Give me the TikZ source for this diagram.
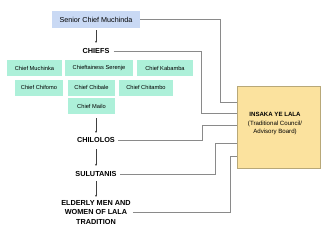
\documentclass[tikz,border=0pt]{standalone}
\usepackage{fontspec}
\setmainfont{Liberation Sans}
\usetikzlibrary{arrows.meta}
\definecolor{seniorfill}{HTML}{C9D9F4}
\definecolor{chieffill}{HTML}{ADF0D9}
\definecolor{councilfill}{HTML}{FBE29E}
\definecolor{councilline}{HTML}{B8A878}
\definecolor{linkgray}{HTML}{8A8A8A}
\tikzset{
  chiefbox/.style={fill=chieffill, inner sep=0pt, font=\fontsize{5.7}{6}\selectfont},
  level/.style={font=\bfseries\fontsize{7.3}{9.6}\selectfont, align=center, inner sep=1pt},
  link/.style={draw=linkgray, line width=0.6pt},
  down/.style={draw=black!75, line width=0.5pt, -{Stealth[length=2.2pt,width=2pt]}},
}
\begin{document}
\begin{tikzpicture}[x=1pt,y=-1pt]
\useasboundingbox (0,0) rectangle (330,233);
% senior chief
\node[fill=seniorfill, minimum width=88pt, minimum height=17pt, inner sep=0pt, font=\fontsize{7.2}{8}\selectfont] (senior) at (96,19.5) {Senior Chief Muchinda};
\node[level] (chiefs) at (96,51) {CHIEFS};
% chief boxes
\node[chiefbox, minimum width=55pt, minimum height=16pt] (muchinka) at (34.5,68) {Chief Muchinka};
\node[chiefbox, minimum width=68pt, minimum height=16pt] (serenje) at (99,68) {Chieftainess Serenje};
\node[chiefbox, minimum width=56pt, minimum height=16pt] (kabamba) at (165,68) {Chief Kabamba};
\node[chiefbox, minimum width=48pt, minimum height=16pt] (chifomo) at (39,87.5) {Chief Chifomo};
\node[chiefbox, minimum width=47pt, minimum height=16pt] (chibale) at (91.5,87.5) {Chief Chibale};
\node[chiefbox, minimum width=54pt, minimum height=16pt] (chitambo) at (146,87.5) {Chief Chitambo};
\node[chiefbox, minimum width=47pt, minimum height=16pt] (mailo) at (91.5,106) {Chief Mailo};
\node[level] (chilolos) at (96,140) {CHILOLOS};
\node[level] (sulutanis) at (96,174) {SULUTANIS};
\node[level] (elderly) at (96,212.5) {ELDERLY MEN AND\\WOMEN OF LALA\\TRADITION};
% council
\node[draw=councilline, line width=0.4pt, fill=councilfill, minimum width=83pt, minimum height=82pt, inner sep=0pt] (council) at (278.5,127) {};
\node[align=center, inner sep=0pt, font=\fontsize{6.1}{8.2}\selectfont, anchor=north] (ctext) at (275,112.5) {\textbf{INSAKA YE LALA}\\(Traditional Council/\\Advisory Board)};
% down arrows
\draw[down] (96,30) -- (96,43);
\draw[down] (96,118) -- (96,133);
\draw[down] (96,149) -- (96,166);
\draw[down] (96,181) -- (96,197);
% links
\coordinate (c1) at (council.west |- 0,102);
\coordinate (c2) at (council.west |- 0,113);
\coordinate (c3) at (council.west |- 0,125);
\coordinate (c4) at (council.west |- 0,143);
\coordinate (c5) at (council.west |- 0,156);
\draw[link] (senior.east) -| (220,102) -- (c1);
\draw[link] (chiefs.east) ++(3,0) -| (201,113) -- (c2);
\draw[link] (chilolos.east) ++(2,0) -| (202,125) -- (c3);
\draw[link] (sulutanis.east) ++(2,0) -| (215,143) -- (c4);
\draw[link] (elderly.east) ++(1,0) -| (230,156) -- (c5);
\end{tikzpicture}
\end{document}
